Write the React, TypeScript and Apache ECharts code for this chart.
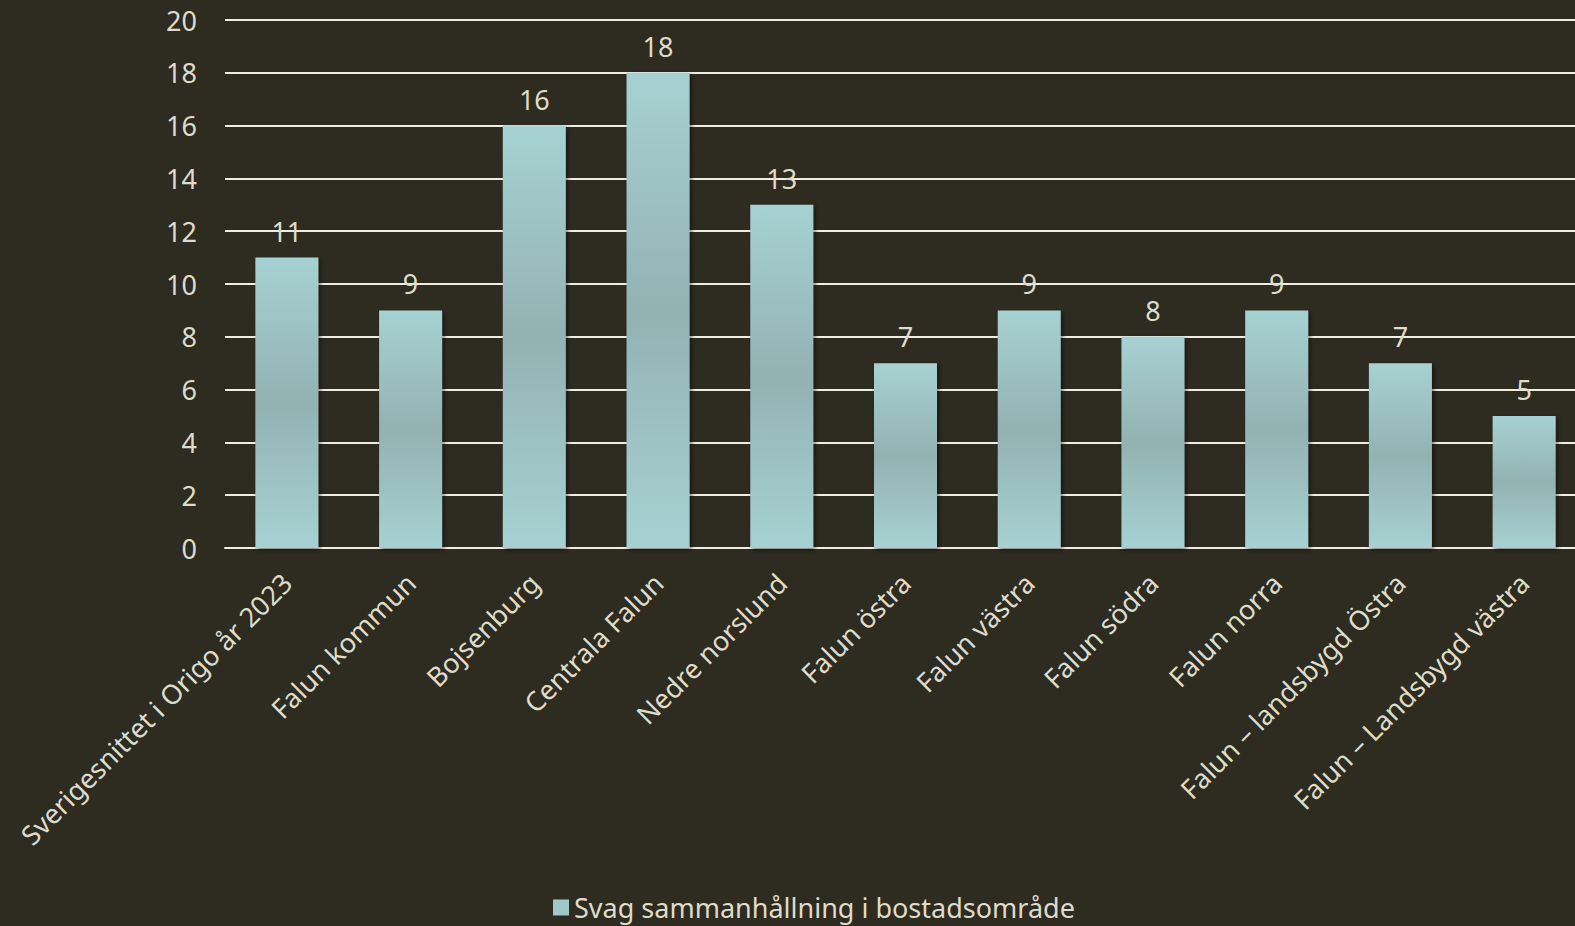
import React, { useEffect, useRef } from "react";
import * as echarts from "echarts";

const categories = [
  "Sverigesnittet i Origo år 2023",
  "Falun kommun",
  "Bojsenburg",
  "Centrala Falun",
  "Nedre norslund",
  "Falun östra",
  "Falun västra",
  "Falun södra",
  "Falun norra",
  "Falun – landsbygd Östra",
  "Falun – Landsbygd västra",
];
const values = [11, 9, 16, 18, 13, 7, 9, 8, 9, 7, 5];
const seriesName = "Svag sammanhållning i bostadsområde";

const TEXT = "#dedccb";
const FONT = "'Noto Sans', sans-serif";
const FS = 27;

export default function App() {
  const ref = useRef<HTMLDivElement>(null);
  useEffect(() => {
    const chart = echarts.init(ref.current!, null, { renderer: "svg" });
    const grad = new echarts.graphic.LinearGradient(0, 0, 0, 1, [
      { offset: 0, color: "#a6d1d2" },
      { offset: 0.5, color: "#93b2b2" },
      { offset: 1, color: "#a6d1d2" },
    ]);
    chart.setOption({
      animation: false,
      backgroundColor: "#2e2b21",
      textStyle: { fontFamily: FONT },
      grid: { left: 225, right: -11, top: 20, bottom: 378, containLabel: false, outerBoundsMode: "none" },
      legend: {
        left: 548,
        top: 889,
        itemWidth: 16,
        itemHeight: 16,
        itemGap: 6,
        icon: "rect",
        textStyle: { color: TEXT, fontSize: FS, fontFamily: FONT },
        data: [{ name: seriesName, itemStyle: { color: "#a0c8c9" } }],
      },
      xAxis: {
        type: "category",
        data: categories,
        axisLine: { show: true, lineStyle: { color: "#f0eee2", width: 2 } },
        axisTick: { show: false },
        axisLabel: { rotate: 45, color: TEXT, fontSize: FS, fontFamily: FONT, margin: 30, interval: 0 },
      },
      yAxis: {
        type: "value",
        min: 0,
        max: 20,
        interval: 2,
        axisLine: { show: false },
        axisTick: { show: false },
        axisLabel: { color: TEXT, fontSize: FS, fontFamily: FONT, margin: 28 },
        splitLine: { show: true, lineStyle: { color: "#f0eee2", width: 2 } },
      },
      series: [
        {
          name: seriesName,
          type: "bar",
          data: values,
          barWidth: 63,
          itemStyle: {
            color: grad,
            shadowColor: "rgba(0,0,0,0.5)",
            shadowBlur: 4,
            shadowOffsetX: 2,
            shadowOffsetY: 2,
          },
          label: { show: true, position: "top", distance: 13, color: TEXT, fontSize: FS, fontFamily: FONT },
        },
      ],
    });
    return () => chart.dispose();
  }, []);
  return <div ref={ref} style={{ position: "fixed", left: 0, top: 0, width: 1575, height: 926 }} />;
}
